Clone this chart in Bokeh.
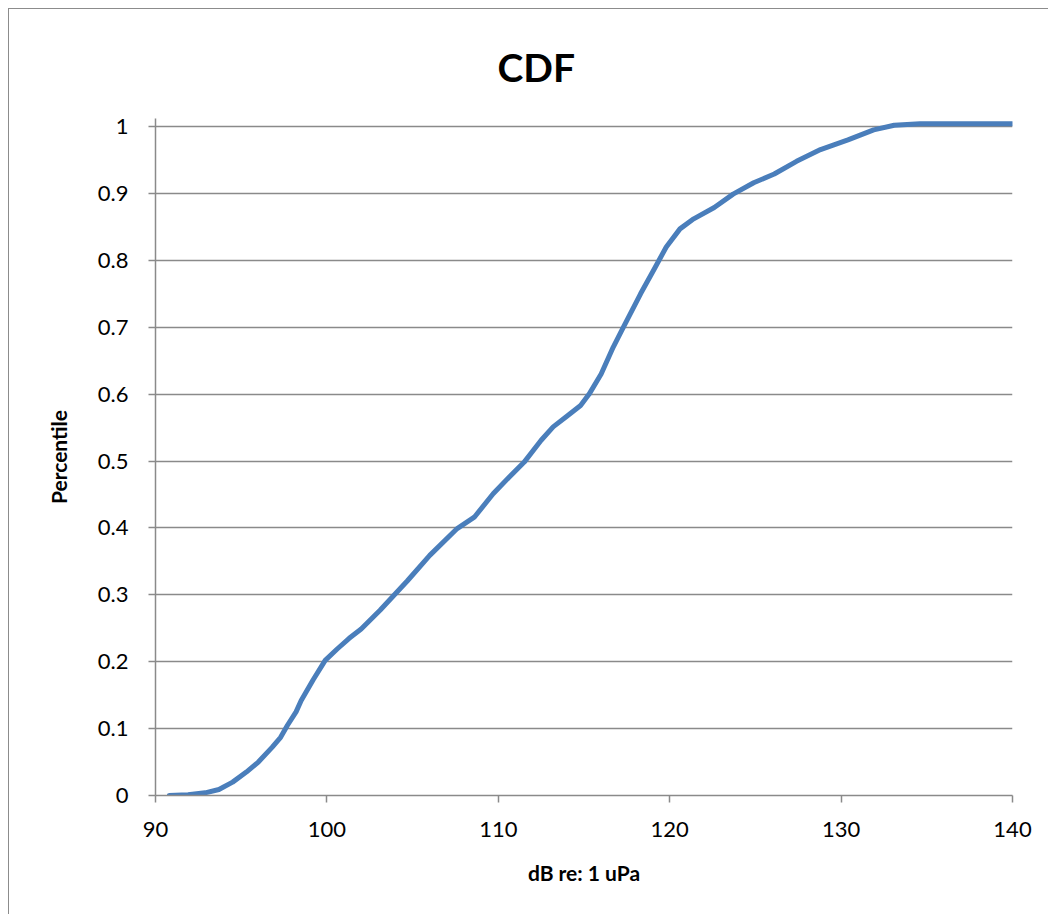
from bokeh.plotting import figure
from bokeh.models import Range1d, FixedTicker, CustomJSTickFormatter
from bokeh.embed import file_html
from bokeh.resources import INLINE

# Data
db_levels = [90.8, 91.9, 92.9, 93.7, 94.5, 95.3, 96.0, 96.8, 97.3, 97.7, 98.2, 98.5,
             99.2, 99.9, 100.6, 101.3, 102.0, 103.1, 103.9, 104.7, 106.0, 107.6, 108.6,
             109.7, 110.6, 111.5, 112.5, 113.2, 114.0, 114.8, 115.3, 116.0, 116.7, 117.3,
             118.3, 119.1, 119.8, 120.6, 121.4, 122.6, 123.7, 124.9, 126.1, 127.4, 128.8,
             130.4, 131.9, 133.1, 134.6, 137.0, 140.0]
percentile = [0.000, 0.001, 0.004, 0.009, 0.020, 0.035, 0.050, 0.072, 0.087, 0.105, 0.125, 0.142,
              0.173, 0.202, 0.219, 0.235, 0.249, 0.277, 0.299, 0.321, 0.359, 0.399, 0.416,
              0.451, 0.475, 0.498, 0.531, 0.551, 0.567, 0.583, 0.600, 0.630, 0.670, 0.700,
              0.750, 0.787, 0.820, 0.847, 0.862, 0.879, 0.899, 0.916, 0.929, 0.948, 0.9655,
              0.980, 0.995, 1.002, 1.004, 1.004, 1.004]
x_ticks = [90, 100, 110, 120, 130, 140]
y_ticks = [0, 0.1, 0.2, 0.3, 0.4, 0.5, 0.6, 0.7, 0.8, 0.9, 1]

FONT = "Lato"
GRID = "#8a8a8a"

p = figure(width=1040, height=906, output_backend="svg", toolbar_location=None,
           x_range=Range1d(90, 140), y_range=Range1d(0, 1.012),
           min_border_left=146, min_border_right=37, min_border_top=109, min_border_bottom=120,
           title="CDF")
p.styles = {"margin-left": "8px", "margin-top": "8px",
            "border-left": "1px solid #8c8c8c", "border-top": "1px solid #8c8c8c"}
p.outline_line_color = None
p.background_fill_color = "white"
p.border_fill_color = "white"

p.title.align = "left"
p.title.offset = 342
p.title.vertical_align = "top"
p.title.text_font = FONT
p.title.text_font_style = "bold"
p.title.text_font_size = "39px"
p.title.text_color = "black"
p.title.standoff = 53

p.line(db_levels, percentile, line_color="#4a7ebb", line_width=5, line_join="round", line_cap="round")

p.xgrid.visible = False
p.ygrid.ticker = FixedTicker(ticks=y_ticks)
p.ygrid.grid_line_color = GRID
p.ygrid.grid_line_width = 1.5

fmt = CustomJSTickFormatter(code="return String(Math.round(tick*10)/10);")
for ax, ticks in ((p.xaxis[0], x_ticks), (p.yaxis[0], y_ticks)):
    ax.ticker = FixedTicker(ticks=ticks)
    ax.formatter = fmt
    ax.axis_line_color = GRID
    ax.axis_line_width = 1.5
    ax.major_tick_line_color = GRID
    ax.major_tick_line_width = 1.5
    ax.major_tick_in = 0
    ax.major_tick_out = 7
    ax.minor_tick_line_color = None
    ax.major_label_text_font = FONT
    ax.major_label_text_font_size = "22px"
    ax.major_label_text_color = "black"
    ax.axis_label_text_font = FONT
    ax.axis_label_text_font_style = "bold"
    ax.axis_label_text_font_size = "21px"
    ax.axis_label_text_color = "black"

p.xaxis.axis_label = "dB re: 1 uPa"
p.yaxis.axis_label = "Percentile"
p.xaxis.major_label_standoff = 19
p.xaxis.axis_label_standoff = 20
p.yaxis.major_label_standoff = 20
p.yaxis.axis_label_standoff = 24

open("out.html", "w").write(file_html(p, INLINE))
